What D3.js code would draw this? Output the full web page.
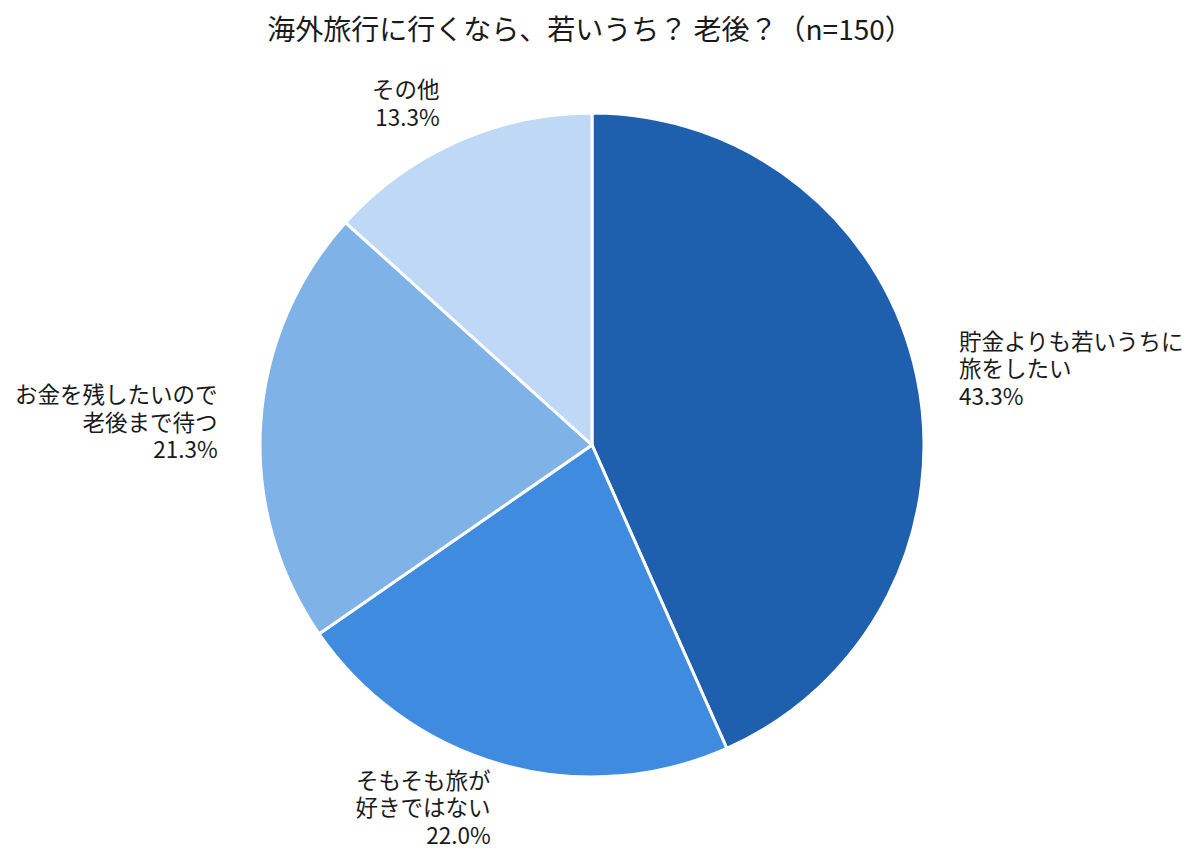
<!DOCTYPE html>
<html>
<head>
<meta charset="utf-8">
<script src="https://cdn.jsdelivr.net/npm/d3@7"></script>
<style>
  body { margin: 0; background: #fff; }
  text { font-family: "Noto Sans CJK JP", "Noto Sans", sans-serif; fill: #1a1a1a; }
</style>
</head>
<body>
<script>
const title = "海外旅行に行くなら、若いうち？ 老後？（n=150）";
const categories = [
  ["貯金よりも若いうちに", "旅をしたい"],
  ["そもそも旅が", "好きではない"],
  ["お金を残したいので", "老後まで待つ"],
  ["その他"]
];
const values = [43.3, 22.0, 21.3, 13.3];
const colors = ["#1e5fae", "#3e8be0", "#7fb3e8", "#bed8f5"];

const width = 1200, height = 860;
const cx = 592, cy = 445, radius = 332;
const lineH = 27.5;

const data = values.map((v, i) => ({ label: categories[i], value: v, color: colors[i] }));

const svg = d3.select("body").append("svg")
  .attr("width", width)
  .attr("height", height)
  .attr("viewBox", [0, 0, width, height]);

svg.append("text")
  .attr("x", 590)
  .attr("y", 28)
  .attr("text-anchor", "middle")
  .attr("dominant-baseline", "central")
  .style("font-size", "28px")
  .text(title);

const pie = d3.pie().value(d => d.value).sort(null);
const arc = d3.arc().innerRadius(0).outerRadius(radius);
const labelArc = d3.arc().innerRadius(radius * 1.13).outerRadius(radius * 1.13);

const g = svg.append("g").attr("transform", `translate(${cx},${cy})`);
const arcs = pie(data);

g.selectAll("path")
  .data(arcs)
  .join("path")
    .attr("d", arc)
    .attr("fill", d => d.data.color)
    .attr("stroke", "#fff")
    .attr("stroke-width", 3);

const labels = g.selectAll("g.label")
  .data(arcs)
  .join("g")
    .attr("class", "label")
    .attr("transform", d => `translate(${labelArc.centroid(d)})`);

labels.each(function(d) {
  const lines = d.data.label.concat([d.data.value.toFixed(1) + "%"]);
  const mid = (d.startAngle + d.endAngle) / 2;
  const anchor = Math.sin(mid) >= 0 ? "start" : "end";
  const t = d3.select(this).append("text")
    .attr("text-anchor", anchor)
    .style("font-size", "22.5px");
  lines.forEach((s, i) => {
    t.append("tspan")
      .attr("x", 0)
      .attr("y", (i - (lines.length - 1) / 2) * lineH)
      .attr("dominant-baseline", "central")
      .text(s);
  });
});
</script>
</body>
</html>
